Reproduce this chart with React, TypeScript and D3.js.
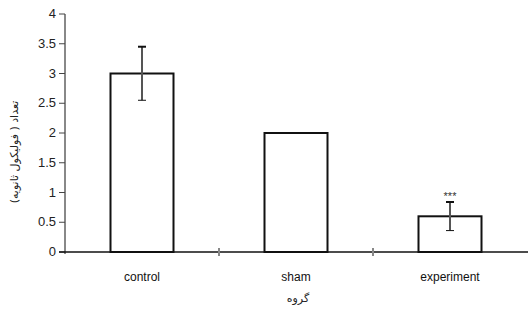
import React, { useEffect, useRef } from "react";
import * as d3 from "d3";

const groups = ["control", "sham", "experiment"];
const counts = [3, 2, 0.6];
const errors = [0.45, 0, 0.24];
const marks = ["", "", "***"];
const yTicks = [0, 0.5, 1, 1.5, 2, 2.5, 3, 3.5, 4];

export default function App() {
  const ref = useRef<SVGSVGElement>(null);

  useEffect(() => {
    const svg = d3.select(ref.current);
    svg.selectAll("*").remove();

    const left = 65, right = 527, top = 14, bottom = 252;
    const x = d3.scaleBand().domain(groups).range([left, right]).paddingInner(0).paddingOuter(0);
    const y = d3.scaleLinear().domain([0, 4]).range([bottom, top]);
    const bw = 63;
    const font = "'Liberation Sans', Arial, sans-serif";

    // y axis
    svg.append("line")
      .attr("x1", left).attr("x2", left).attr("y1", top).attr("y2", bottom + 2)
      .attr("stroke", "#888").attr("stroke-width", 2);
    svg.selectAll(".yt").data(yTicks).join("line")
      .attr("x1", left - 6).attr("x2", left)
      .attr("y1", d => y(d)).attr("y2", d => y(d))
      .attr("stroke", "#444").attr("stroke-width", 1);
    svg.selectAll(".yl").data(yTicks).join("text")
      .attr("x", left - 9).attr("y", d => y(d) + 4)
      .attr("text-anchor", "end")
      .attr("font-family", font).attr("font-size", 13).attr("fill", "#222")
      .text(d => String(d));

    // bars
    groups.forEach((g, i) => {
      const cx = x(g)! + x.bandwidth() / 2;
      svg.append("rect")
        .attr("x", cx - bw / 2).attr("y", y(counts[i]))
        .attr("width", bw).attr("height", bottom - y(counts[i]))
        .attr("fill", "white").attr("stroke", "#111").attr("stroke-width", 2);
      if (errors[i] > 0) {
        const y1 = y(counts[i] + errors[i]), y2 = y(counts[i] - errors[i]);
        svg.append("line").attr("x1", cx).attr("x2", cx).attr("y1", y1).attr("y2", y2)
          .attr("stroke", "#555").attr("stroke-width", 2);
        [y1, y2].forEach(yy => {
          svg.append("line").attr("x1", cx - 4).attr("x2", cx + 4).attr("y1", yy).attr("y2", yy)
            .attr("stroke", "#111").attr("stroke-width", yy === y1 ? 2 : 1);
        });
      }
      if (marks[i]) {
        svg.append("text").attr("x", cx).attr("y", y(counts[i] + errors[i]) - 2)
          .attr("text-anchor", "middle").attr("font-family", font).attr("font-size", 11)
          .attr("fill", "#333").text(marks[i]);
      }
      svg.append("text").attr("x", cx).attr("y", 281)
        .attr("text-anchor", "middle").attr("font-family", font).attr("font-size", 12)
        .attr("fill", "#111").text(g);
    });

    // x axis
    svg.append("line").attr("x1", left - 6).attr("x2", right + 1).attr("y1", bottom).attr("y2", bottom)
      .attr("stroke", "#111").attr("stroke-width", 1.5);
    groups.slice(1).forEach(g => {
      svg.append("line").attr("x1", x(g)!).attr("x2", x(g)!).attr("y1", bottom - 4).attr("y2", bottom + 4)
        .attr("stroke", "#888").attr("stroke-width", 2);
    });

    svg.append("text").attr("x", 298).attr("y", 302)
      .attr("text-anchor", "middle").attr("font-family", "'DejaVu Sans', sans-serif").attr("font-size", 11)
      .attr("fill", "#222").attr("direction", "rtl").text("گروه");

    svg.append("text")
      .attr("transform", "translate(18,152) rotate(-90)")
      .attr("text-anchor", "middle").attr("font-family", "'DejaVu Sans', sans-serif").attr("font-size", 11)
      .attr("fill", "#222").attr("direction", "rtl").text("تعداد ( فولیکول ثانویه)");
  }, []);

  return (
    <svg ref={ref} width={528} height={320} style={{ position: "absolute", left: 0, top: 0, background: "white" }} />
  );
}
